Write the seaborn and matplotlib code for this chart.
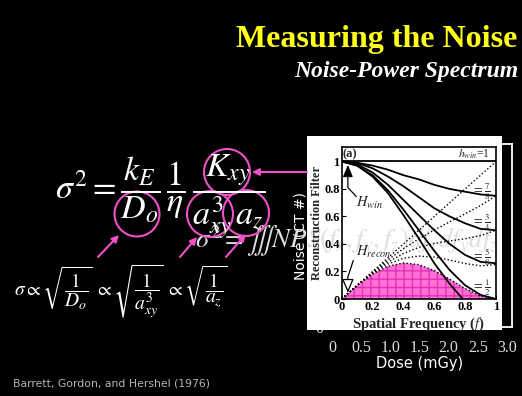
import numpy as np
import pandas as pd
import matplotlib
matplotlib.use("Agg")
import matplotlib.pyplot as plt
from matplotlib.patches import Circle, Rectangle, FancyArrowPatch
import seaborn as sns

# ---- data -------------------------------------------------------------
freq = [0.0, 0.1, 0.2, 0.3, 0.4, 0.5, 0.6, 0.7, 0.8, 0.9, 1.0]

# apodizing windows H_win(f)
win_1 = [1.0, 1.0, 1.0, 1.0, 1.0, 1.0, 1.0, 1.0, 1.0, 1.0, 1.0]
win_7_8 = [1.0, 0.99, 0.97, 0.94, 0.90, 0.87, 0.83, 0.80, 0.78, 0.76, 0.75]
win_3_4 = [1.0, 0.99, 0.95, 0.89, 0.82, 0.74, 0.66, 0.60, 0.55, 0.51, 0.50]
win_5_8 = [1.0, 0.98, 0.92, 0.83, 0.72, 0.61, 0.50, 0.40, 0.32, 0.27, 0.26]
win_1_2 = [1.0, 0.97, 0.90, 0.79, 0.65, 0.50, 0.35, 0.21, 0.10, 0.03, 0.0]
win_7_16 = [1.0, 0.97, 0.89, 0.77, 0.61, 0.44, 0.26, 0.11, -0.02, -0.10, -0.12]

# reconstruction filters H_recon(f) (ramp x window)
rec_1 = [0.0, 0.10, 0.20, 0.30, 0.40, 0.50, 0.60, 0.70, 0.80, 0.90, 1.0]
rec_7_8 = [0.0, 0.099, 0.195, 0.285, 0.366, 0.437, 0.502, 0.561, 0.619, 0.680, 0.75]
rec_3_4 = [0.0, 0.099, 0.190, 0.269, 0.331, 0.375, 0.404, 0.422, 0.438, 0.461, 0.50]
rec_5_8 = [0.0, 0.098, 0.186, 0.254, 0.296, 0.312, 0.305, 0.283, 0.258, 0.241, 0.25]
rec_1_2 = [0.0, 0.098, 0.181, 0.238, 0.262, 0.250, 0.207, 0.144, 0.076, 0.022, 0.0]

yticks = [0, 0.2, 0.4, 0.6, 0.8, 1.0]
ytick_labels = ["0", "0.2", "0.4", "0.6", "0.8", "1"]
xticks = [0, 0.2, 0.4, 0.6, 0.8, 1.0]
xtick_labels = ["0", "0.2", "0.4", "0.6", "0.8", "1"]

dose_ticks = [0, 0.5, 1.0, 1.5, 2.0, 2.5, 3.0]
dose_labels = ["0", "0.5", "1.0", "1.5", "2.0", "2.5", "3.0"]

window_labels = [(0.965, 0.78, r"$=\frac{7}{8}$"), (0.965, 0.555, r"$=\frac{3}{4}$"),
                 (0.965, 0.305, r"$=\frac{5}{8}$"), (0.965, 0.085, r"$=\frac{1}{2}$")]

# ---- long table for seaborn ------------------------------------------
rows = []
series = {
    ("window", "1"): win_1, ("window", "7/8"): win_7_8, ("window", "3/4"): win_3_4,
    ("window", "5/8"): win_5_8, ("window", "1/2"): win_1_2, ("window", "7/16"): win_7_16,
    ("filter", "1"): rec_1, ("filter", "7/8"): rec_7_8, ("filter", "3/4"): rec_3_4,
    ("filter", "5/8"): rec_5_8, ("filter", "1/2"): rec_1_2,
}
for (kind, h), vals in series.items():
    for f, v in zip(freq, vals):
        rows.append({"freq": f, "value": v, "kind": kind, "curve": f"{kind}-{h}"})
df = pd.DataFrame(rows)

# ---- figure -----------------------------------------------------------
sns.set_theme(style="white")
plt.rcParams["font.family"] = ["Liberation Serif", "DejaVu Serif"]
plt.rcParams["mathtext.fontset"] = "stix"

W, H = 522, 396
fig = plt.figure(figsize=(W / 100, H / 100), dpi=100, facecolor="black")

def fx(px):
    return px / W

def fy(py):
    return 1 - py / H

PINK = "#f050c8"

# background chart: noise vs dose
bx0, bx1, by0, by1 = 328, 512, 144, 327
bg = fig.add_axes([fx(bx0), fy(by1), fx(bx1) - fx(bx0), fy(by0) - fy(by1)], zorder=0)
bg.set_facecolor("black")
bg.set_xlim(-0.07, 3.086)
bg.set_ylim(0, 1)
bg.set_xticks(dose_ticks)
bg.set_xticklabels(dose_labels, fontsize=11.5, color="#dcdcdc")
bg.set_yticks([0])
bg.set_yticklabels(["0"], fontsize=11.5, color="#dcdcdc")
bg.tick_params(axis="x", length=0, pad=9)
bg.tick_params(axis="y", length=0, pad=3)
for s in bg.spines.values():
    s.set_color("white")
    s.set_linewidth(1.3)
bg.set_xlabel("Dose (mGy)", fontsize=10.5, color="white", family="DejaVu Sans")
bg.set_ylabel("Noise (CT #)", fontsize=10, color="white", family="DejaVu Sans")
bg.xaxis.set_label_coords(0.5, (by1 - 356) / (by1 - by0))
bg.yaxis.set_label_coords((307 - bx0) / (bx1 - bx0), 0.5)

# white panel holding the filter plot
fig.patches.append(Rectangle((fx(307), fy(330)), fx(502) - fx(307), fy(136) - fy(330),
                             transform=fig.transFigure, facecolor="white",
                             edgecolor="none", zorder=1))

# faint integral expression running behind the panel
fig.text(fx(195), fy(241), r"$\sigma^2=\iiint NPS(f_x,f_y,f_z)df_x df_y df_z$",
         fontsize=19.3, color="#dedede", ha="left", va="center", zorder=1.5)

# filter plot
ax = fig.add_axes([fx(341.7), fy(299), fx(496) - fx(341.7), fy(147) - fy(299)], zorder=2)
ax.set_facecolor("none")
ax.fill_between(freq, rec_1_2, 0, facecolor="#ff70d2", edgecolor="#e230bd",
                hatch="++", linewidth=0, zorder=1)
sns.lineplot(data=df, x="freq", y="value", units="curve", style="kind",
             estimator=None, color="black", legend=False, ax=ax,
             dashes={"window": "", "filter": (1, 1.6)},
             style_order=["window", "filter"], sort=False, zorder=2)
for line in ax.lines:
    if line.get_linestyle() == "-":
        line.set_linewidth(1.3)
    else:
        line.set_linewidth(1.0)
ax.set_xlim(0, 1)
ax.set_ylim(0, 1.105)
ax.set_xticks(xticks)
ax.set_xticklabels(xtick_labels, fontsize=9, fontweight="bold")
ax.set_yticks(yticks)
ax.set_yticklabels(ytick_labels, fontsize=9, fontweight="bold")
ax.tick_params(direction="in", length=3, width=0.8, pad=1.5, colors="black",
               left=True, bottom=True)
for s in ax.spines.values():
    s.set_color("black")
    s.set_linewidth(1.2)
ax.set_xlabel(r"Spatial Frequency ($f$)", fontsize=10.5, fontweight="bold", labelpad=2)
ax.set_ylabel("Reconstruction Filter", fontsize=9, fontweight="bold", labelpad=1)

ax.text(0.005, 1.052, "(a)", fontsize=9, fontweight="bold", ha="left", va="center")
ax.text(0.965, 1.052, r"$h_{win}$=1", fontsize=8.5, ha="right", va="center")
for x, y, t in window_labels:
    ax.text(x, y, t, fontsize=9, ha="right", va="center")

ax.text(0.095, 0.70, r"$H_{win}$", fontsize=10.5, ha="left", va="center")
ax.plot([0.095, 0.04, 0.04], [0.745, 0.81, 0.90], color="black", lw=0.9)
ax.annotate("", xy=(0.04, 0.995), xytext=(0.04, 0.89),
            arrowprops=dict(arrowstyle="-|>,head_length=0.6,head_width=0.25",
                            color="black", lw=0.9))
ax.text(0.09, 0.34, r"$H_{recon}$", fontsize=10.5, ha="left", va="center")
ax.plot([0.075, 0.04, 0.04], [0.28, 0.16, 0.12], color="black", lw=0.9)
ax.annotate("", xy=(0.04, 0.025), xytext=(0.04, 0.13),
            arrowprops=dict(arrowstyle="-|>,head_length=0.7,head_width=0.3",
                            facecolor="white", edgecolor="black", lw=0.9))

# overlay for the slide text, circles and pointers
ov = fig.add_axes([0, 0, 1, 1], zorder=3)
ov.set_xlim(0, W)
ov.set_ylim(H, 0)
ov.axis("off")
ov.patch.set_alpha(0)

ov.text(517, 40, "Measuring the Noise", fontsize=23, fontweight="bold",
        color="#ffff1a", ha="right", va="center")
ov.text(518, 71, "Noise-Power Spectrum", fontsize=17, fontweight="bold",
        style="italic", color="white", ha="right", va="center")

ov.text(55, 197, r"$\sigma^2=\dfrac{k_E}{D_o}\,\dfrac{1}{\eta}\,\dfrac{K_{xy}}{a_{xy}^3\,a_z}$",
        fontsize=24.5, color="white", ha="left", va="center")
ov.text(14, 291, r"$\sigma\propto\sqrt{\dfrac{1}{D_o}}\;\propto\sqrt{\dfrac{1}{a_{xy}^3}}\;\propto\sqrt{\dfrac{1}{a_z}}$",
        fontsize=14, color="white", ha="left", va="center")

for cx, cy, r in [(227, 172, 23), (137, 214, 22.5), (210, 214, 23), (246, 213, 23)]:
    ov.add_patch(Circle((cx, cy), r, fill=False, edgecolor=PINK, lw=1.5))

for (x0, y0), (x1, y1) in [((307, 172), (252, 172)), ((98, 257), (119, 235)),
                           ((180, 257), (197, 237)), ((226, 257), (246, 234))]:
    ov.add_patch(FancyArrowPatch((x0, y0), (x1, y1), arrowstyle="-|>,head_length=4,head_width=2",
                                 color=PINK, lw=1.5, shrinkA=0, shrinkB=0))

ov.text(13, 383, "Barrett, Gordon, and Hershel (1976)", fontsize=7.8,
        family="DejaVu Sans", color="#b4b4b4", ha="left", va="center")

fig.savefig("out.png", dpi=100, facecolor="black")
